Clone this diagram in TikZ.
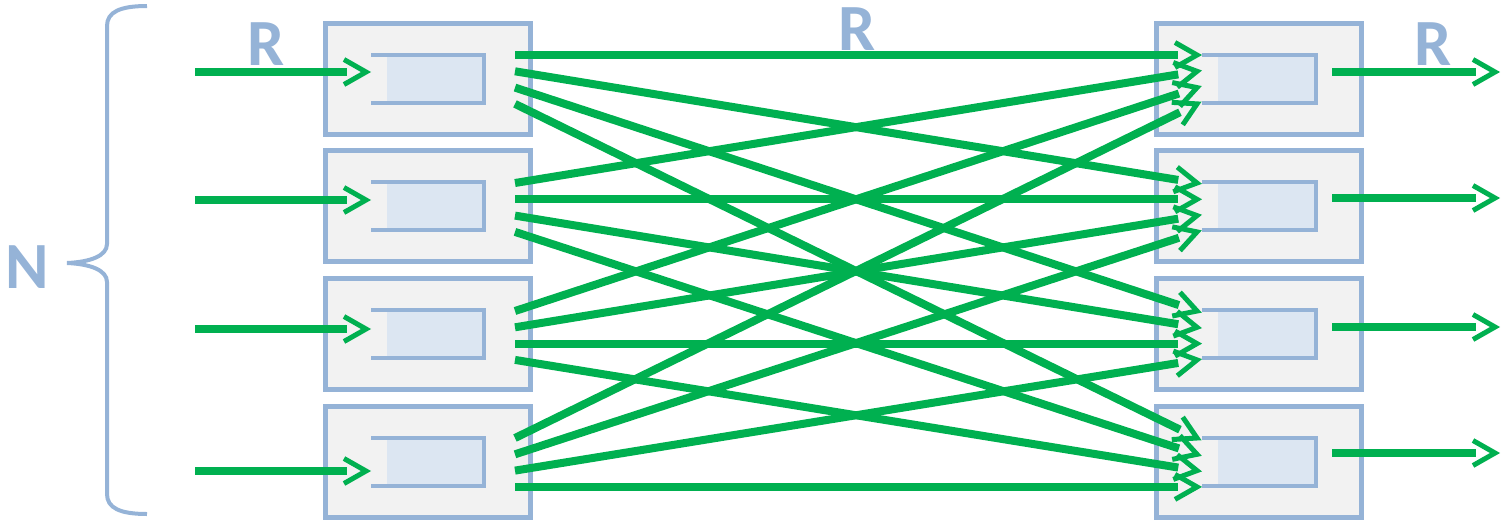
\documentclass[tikz,border=0pt]{standalone}
\usepackage{fontspec}
\newfontfamily\labfont{Carlito}
\usetikzlibrary{calc}
\definecolor{bl}{HTML}{95B3D7}
\definecolor{gr}{HTML}{00B050}
\definecolor{boxfill}{HTML}{F2F2F2}
\definecolor{qfill}{HTML}{DCE6F2}
\tikzset{
  box/.style={draw=bl, fill=boxfill, line width=5pt, minimum width=205pt, minimum height=111pt, inner sep=0pt},
  qfillst/.style={fill=qfill},
  qline/.style={draw=bl, line width=4pt},
  shaft/.style={draw=gr, line width=8pt},
  chev/.style={draw=gr, line width=5pt, line join=miter},
  lab/.style={text=bl, font=\labfont\bfseries\fontsize{66}{66}\selectfont, inner sep=0pt},
  brace/.style={draw=bl, line width=4pt}
}
\newcommand\flw[2]{%
  \draw[shaft] (#1) -- ($(#2)!19pt!(#1)$);
  \draw[chev] ($(#2)!22pt!(#1)!12.5pt!90:(#2)$) -- (#2) -- ($(#2)!22pt!(#1)!12.5pt!-90:(#2)$);
}
\begin{document}
\begin{tikzpicture}[x=1pt,y=-1pt]
\useasboundingbox (0,0) rectangle (1501,520);
% boxes
\foreach \i/\y in {1/79,2/206,3/334,4/461.5}{
  \node[box] (L\i) at (427.5,\y) {};
  \node[box] (R\i) at (1259,\y) {};
  \fill[qfillst] (387,{\y-24}) rectangle (484,{\y+24});
  \draw[qline] (371,{\y-24}) -- (484,{\y-24}) -- (484,{\y+24}) -- (371,{\y+24});
  \fill[qfillst] (1218,{\y-24}) rectangle (1316,{\y+24});
  \draw[qline] (1202,{\y-24}) -- (1316,{\y-24}) -- (1316,{\y+24}) -- (1202,{\y+24});
}
% input arrows
\foreach \i/\y in {1/72,2/200,3/329,4/471}{
  \coordinate (in\i) at (195,\y);
  \coordinate (lq\i) at (366,\y);
  \flw{in\i}{lq\i}
}
% output arrows
\foreach \i/\y in {1/72,2/198,3/327,4/453}{
  \coordinate (ro\i) at (1332,\y);
  \coordinate (out\i) at (1495,\y);
  \flw{ro\i}{out\i}
}
% port coordinates
\foreach \i/\b in {1/55,2/183,3/311,4/438}{
  \foreach \j in {1,2,3,4}{
    \coordinate (lo-\i-\j) at (515,{\b+16.3*(\j-1)});
    \coordinate (ri-\i-\j) at (1197,{\b+16.3*(\j-1)});
  }
}
% crossbar connections
\foreach \i in {1,2,3,4}{
  \foreach \j in {1,2,3,4}{
    \flw{lo-\i-\j}{ri-\j-\i}
  }
}
% labels
\node[lab] (rin) at (266,44) {R};
\node[lab] (rmid) at (857,29) {R};
\node[lab] (rout) at (1433,44) {R};
\node[lab] (nlab) at (27.5,267.5) {N};
% brace
\draw[brace] (147,6) .. controls (120,6) and (107,12) .. (107,26) -- (107,244)
  .. controls (107,256) and (90,262) .. (67,263)
  .. controls (90,264) and (107,270) .. (107,282) -- (107,494)
  .. controls (107,508) and (120,514) .. (147,514);
\end{tikzpicture}
\end{document}
